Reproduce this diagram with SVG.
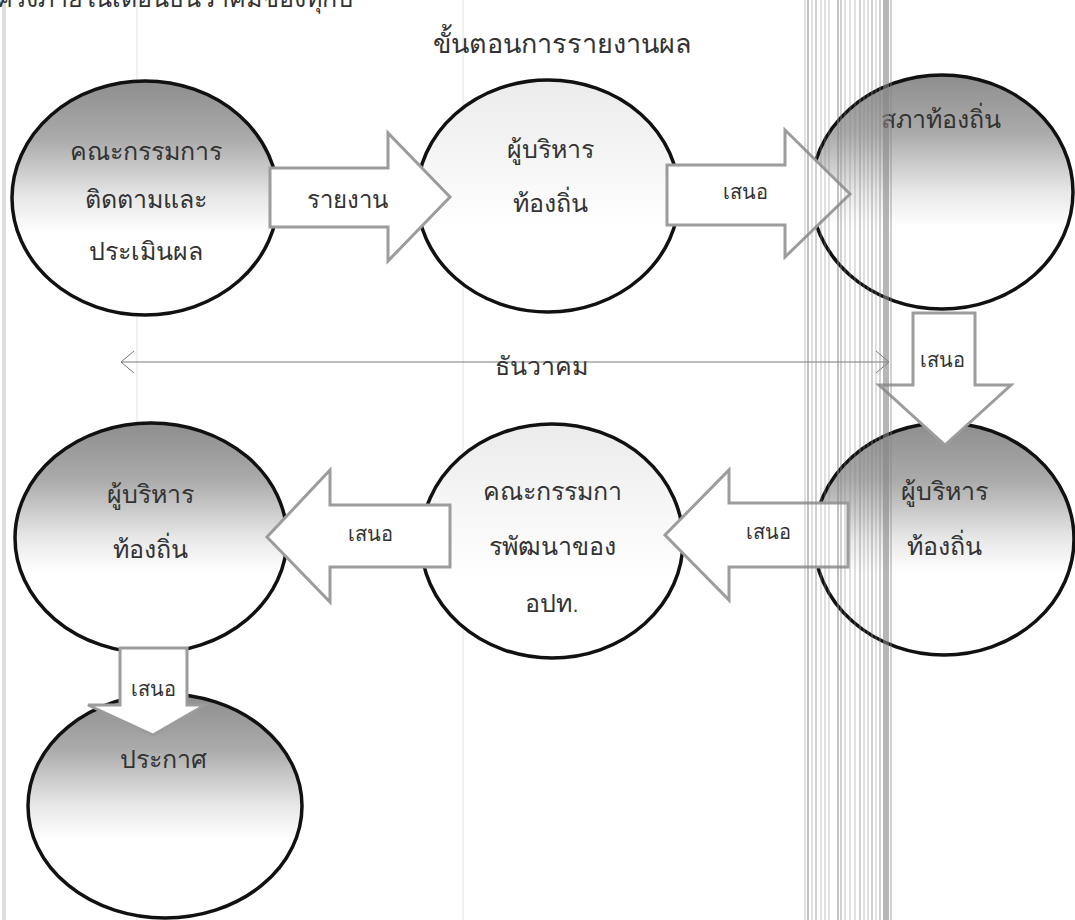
<svg xmlns="http://www.w3.org/2000/svg" width="1075" height="920" viewBox="0 0 1075 920">
<defs>
<linearGradient id="dark" x1="0" y1="0" x2="0" y2="1">
<stop offset="0" stop-color="#8e8e8e"/>
<stop offset="0.25" stop-color="#ababab"/>
<stop offset="0.5" stop-color="#e8e8e8"/>
<stop offset="0.65" stop-color="#ffffff"/>
</linearGradient>
<linearGradient id="light" x1="0" y1="0" x2="0" y2="1">
<stop offset="0" stop-color="#ebebeb"/>
<stop offset="0.45" stop-color="#f9f9f9"/>
<stop offset="0.65" stop-color="#ffffff"/>
</linearGradient>
</defs>
<style>
text{font-family:"Noto Sans","DejaVu Sans",sans-serif;font-weight:300;fill:#333;text-anchor:middle}
.node ellipse{stroke:#111;stroke-width:3.5}
.dk{fill:url(#dark)}
.lt{fill:url(#light)}
.t{font-size:25px}
.arrow{fill:#fff;stroke:#9c9c9c;stroke-width:3;stroke-linejoin:miter}
.lbl{font-size:20px}
.art{stroke:#e2e2e2;stroke-width:1}
.str line{stroke:#858585;stroke-opacity:.5}
</style>
<rect width="1075" height="920" fill="#fff"/>
<g id="scan-lines">
<rect x="2" y="0" width="4" height="920" fill="#dedede"/>
<line class="art" x1="137" y1="0" x2="137" y2="920"/>
<line class="art" x1="463" y1="0" x2="463" y2="920"/>
</g>
<text x="-4" y="7" style="font-size:25px;text-anchor:start">ครั้งภายในเดือนธันวาคมของทุกปี</text>
<text x="562" y="53" style="font-size:27px">ขั้นตอนการรายงานผล</text>

<g id="node-committee-eval" class="node">
<ellipse class="dk" cx="145" cy="198" rx="133" ry="117"/>
<text class="t" x="146" y="160">คณะกรรมการ</text>
<text class="t" x="146" y="208">ติดตามและ</text>
<text class="t" x="146" y="260">ประเมินผล</text>
</g>
<g id="node-executive-1" class="node">
<ellipse class="lt" cx="548" cy="196" rx="131" ry="116"/>
<text class="t" x="550" y="158">ผู้บริหาร</text>
<text class="t" x="550" y="212">ท้องถิ่น</text>
</g>
<g id="node-council" class="node">
<ellipse class="dk" cx="942" cy="192" rx="131" ry="117"/>
<text class="t" x="941" y="128">สภาท้องถิ่น</text>
</g>
<g id="node-executive-2" class="node">
<ellipse class="dk" cx="944" cy="539" rx="130" ry="116"/>
<text class="t" x="944" y="500">ผู้บริหาร</text>
<text class="t" x="944" y="555">ท้องถิ่น</text>
</g>
<g id="node-dev-committee" class="node">
<ellipse class="lt" cx="552" cy="541" rx="131" ry="117"/>
<text class="t" x="552" y="500">คณะกรรมกา</text>
<text class="t" x="552" y="555">รพัฒนาของ</text>
<text class="t" x="552" y="612">อปท.</text>
</g>
<g id="node-executive-3" class="node">
<ellipse class="dk" cx="151" cy="538" rx="136" ry="115"/>
<text class="t" x="150" y="503">ผู้บริหาร</text>
<text class="t" x="150" y="558">ท้องถิ่น</text>
</g>
<g id="node-announce" class="node">
<ellipse class="dk" cx="165" cy="806" rx="137" ry="112"/>
<text class="t" x="163" y="768">ประกาศ</text>
</g>

<g id="connectors">
<g id="timeline">
<line x1="121" y1="362" x2="889" y2="362" stroke="#7a7a7a" stroke-width="1"/>
<polyline points="134,351 121,362 134,373" fill="none" stroke="#7a7a7a" stroke-width="1"/>
<polyline points="876,351 889,362 876,373" fill="none" stroke="#7a7a7a" stroke-width="1"/>
<text x="541" y="375" style="font-size:25px">ธันวาคม</text>
</g>
<g id="arrow-report">
<path class="arrow" d="M270,168 H388 V133 L450,197 L388,261 V227 H270 Z"/>
<text x="347" y="208" style="font-size:24px">รายงาน</text>
</g>
<g id="arrow-propose-1">
<path class="arrow" d="M667,165 H785 V130 L850,194 L785,257 V225 H667 Z"/>
<text class="lbl" x="745" y="199">เสนอ</text>
</g>
<g id="arrow-propose-2">
<path class="arrow" d="M913,313 H975 V385 H1011 L945,445 L879,385 H913 Z"/>
<text class="lbl" x="942" y="367">เสนอ</text>
</g>
<g id="arrow-propose-3">
<path class="arrow" d="M848,503 H729 V470 L665,535 L729,600 V567 H848 Z"/>
<text class="lbl" x="768" y="539">เสนอ</text>
</g>
<g id="arrow-propose-4">
<path class="arrow" d="M450,505 H330 V470 L267,537 L330,602 V567 H450 Z"/>
<text class="lbl" x="370" y="541">เสนอ</text>
</g>
<g id="arrow-propose-5">
<path class="arrow" d="M120,648 H187 V705 H205 L153,735 L88,705 H120 Z"/>
<text class="lbl" x="153" y="696">เสนอ</text>
</g>
</g>

<g id="scan-stripes" class="str">
<line x1="805" y1="0" x2="805" y2="920" stroke-width="1"/>
<line x1="808" y1="0" x2="808" y2="920" stroke-width="2"/>
<line x1="812" y1="0" x2="812" y2="920" stroke-width="1"/>
<line x1="816" y1="0" x2="816" y2="920" stroke-width="1.5"/>
<line x1="821" y1="0" x2="821" y2="920" stroke-width="1"/>
<line x1="825" y1="0" x2="825" y2="920" stroke-width="1"/>
<line x1="829" y1="0" x2="829" y2="920" stroke-width="1"/>
<line x1="838" y1="0" x2="838" y2="920" stroke-width="2"/>
<line x1="841" y1="0" x2="841" y2="920" stroke-width="1.5"/>
<line x1="845" y1="0" x2="845" y2="920" stroke-width="1"/>
<line x1="850" y1="0" x2="850" y2="920" stroke-width="1"/>
<line x1="855" y1="0" x2="855" y2="920" stroke-width="1"/>
<line x1="860" y1="0" x2="860" y2="920" stroke-width="1.5"/>
<line x1="864" y1="0" x2="864" y2="920" stroke-width="1"/>
<line x1="868" y1="0" x2="868" y2="920" stroke-width="1"/>
<line x1="872" y1="0" x2="872" y2="920" stroke-width="1.5"/>
<line x1="876" y1="0" x2="876" y2="920" stroke-width="1"/>
<line x1="880" y1="0" x2="880" y2="920" stroke-width="1.5"/>
<line x1="886" y1="0" x2="886" y2="920" stroke-width="6" style="stroke-opacity:.6"/>
<line x1="891" y1="0" x2="891" y2="920" stroke-width="1.5"/>
</g>
</svg>
